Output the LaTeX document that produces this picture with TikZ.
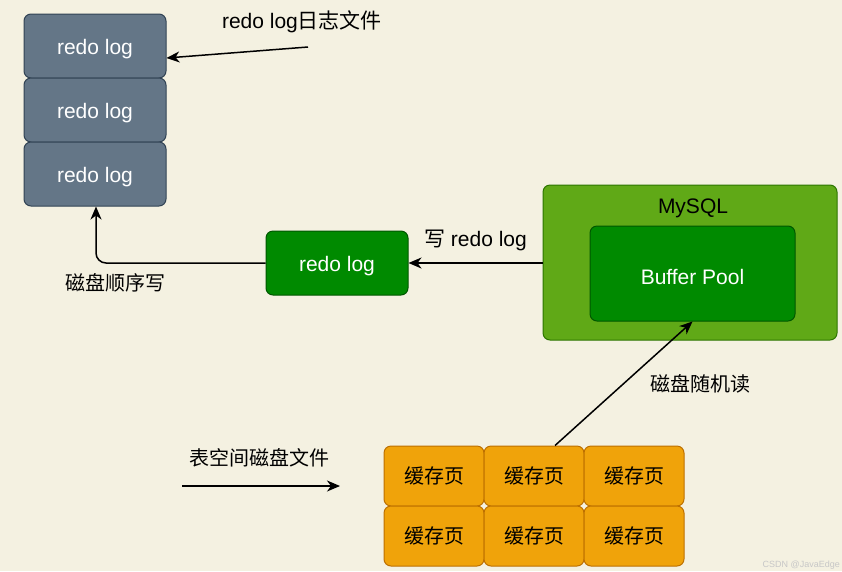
\documentclass[tikz,border=0pt]{standalone}
\usepackage{fontspec}
\setmainfont{Liberation Sans}
\newfontfamily\cjk{Noto Sans CJK SC}
\usetikzlibrary{arrows.meta}
\definecolor{bg}{HTML}{F4F1E1}
\definecolor{slatef}{HTML}{647687}
\definecolor{slated}{HTML}{314354}
\definecolor{gf}{HTML}{008A00}
\definecolor{gd}{HTML}{005700}
\definecolor{lgf}{HTML}{60A917}
\definecolor{lgd}{HTML}{2D7600}
\definecolor{of}{HTML}{F0A30A}
\definecolor{od}{HTML}{BD7000}
\newcommand{\dn}[1]{\raisebox{-3pt}[\height][\depth]{#1}}
\tikzset{
  box/.style={draw, line width=1pt, rounded corners=7pt, inner sep=0pt, font=\fontsize{21}{24}\selectfont},
  slatebox/.style={box, fill=slatef, draw=slated, text=white, minimum width=142pt, minimum height=64pt},
  greenbox/.style={box, fill=gf, draw=gd, text=white},
  orangebox/.style={box, fill=of, draw=od, text=black, minimum width=100pt, minimum height=60pt, font=\fontsize{20}{24}\selectfont\cjk},
  lbl/.style={inner sep=0pt, font=\fontsize{21}{24}\selectfont},
  arr/.style={line width=1.5pt, -{Stealth[length=13pt,width=11pt,inset=4pt]}}
}
\begin{document}
\begin{tikzpicture}[x=1pt,y=-1pt]
\fill[bg] (0,0) rectangle (842,571);
\useasboundingbox (0,0) rectangle (842,571);
% redo log stack
\node[slatebox] (r1) at (95,46) {\dn{redo log}};
\node[slatebox] (r2) at (95,110) {\dn{redo log}};
\node[slatebox] (r3) at (95,174) {\dn{redo log}};
% top label and arrow
\node[lbl] (toplbl) at (302,22) {redo log{\cjk 日志文件}};
\coordinate (tstart) at (308,47);
\draw[arr] (tstart) -- (r1.east |- 0,58);
% MySQL
\node[box, fill=lgf, draw=lgd, minimum width=294pt, minimum height=155pt] (mysql) at (690,262.5) {};
\node[lbl] (mysqllbl) at (693,208) {MySQL};
\node[greenbox, minimum width=205pt, minimum height=95pt] (bp) at (692.5,273.5) {\dn{Buffer Pool}};
% green redo log
\node[greenbox, minimum width=142pt, minimum height=64pt] (rl) at (337,263) {\dn{redo log}};
\draw[arr] (mysql.west |- rl.east) -- node[lbl, above=11pt, pos=0.5] (wlbl) {{\cjk 写} redo log} (rl.east);
\draw[arr, rounded corners=10pt] (rl.west) -- (96,263) -- (r3.south -| 96,0);
\node[lbl, font=\fontsize{20}{24}\selectfont\cjk] (seqlbl) at (115,283) {磁盘顺序写};
% orange pages
\node[orangebox] (o11) at (434,476) {缓存页};
\node[orangebox] (o12) at (534,476) {缓存页};
\node[orangebox] (o13) at (634,476) {缓存页};
\node[orangebox] (o21) at (434,536) {缓存页};
\node[orangebox] (o22) at (534,536) {缓存页};
\node[orangebox] (o23) at (634,536) {缓存页};
\path (o12.north) ++(21,0) coordinate (rs);
\draw[arr] (rs) -- (bp.south);
\node[lbl, font=\fontsize{20}{24}\selectfont\cjk] (randlbl) at (700,384) {磁盘随机读};
% tablespace label
\node[lbl, font=\fontsize{20}{24}\selectfont\cjk] (tslbl) at (259,458) {表空间磁盘文件};
\coordinate (ts1) at (182,486);
\coordinate (ts2) at (340,486);
\draw[arr] (ts1) -- (ts2);
% watermark
\node[anchor=east, inner sep=0pt, text=black!22, font=\fontsize{9}{10}\selectfont] (wm) at (840,565) {CSDN @JavaEdge};
\end{tikzpicture}
\end{document}
